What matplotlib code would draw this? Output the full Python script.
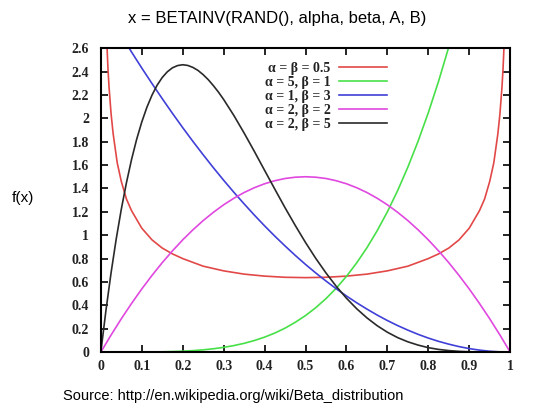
import matplotlib.pyplot as plt
from matplotlib.ticker import FuncFormatter

# values
x_grid = [0, 0.025, 0.05, 0.075, 0.1, 0.125, 0.15, 0.175, 0.2, 0.225, 0.25,
          0.275, 0.3, 0.325, 0.35, 0.375, 0.4, 0.425, 0.45, 0.475, 0.5,
          0.525, 0.55, 0.575, 0.6, 0.625, 0.65, 0.675, 0.7, 0.725, 0.75,
          0.775, 0.8, 0.825, 0.85, 0.875, 0.9, 0.925, 0.95, 0.975, 1]

x_red = [0.012, 0.0135, 0.015, 0.0175, 0.02, 0.025, 0.03, 0.04, 0.05, 0.0625,
         0.075, 0.1, 0.125, 0.15, 0.175, 0.2, 0.25, 0.3, 0.35, 0.4, 0.45,
         0.5, 0.55, 0.6, 0.65, 0.7, 0.75, 0.8, 0.825, 0.85, 0.875, 0.9,
         0.925, 0.9375, 0.95, 0.96, 0.97, 0.975, 0.98, 0.9825, 0.985,
         0.9865, 0.988]
y_red = [2.92, 2.76, 2.62, 2.42, 2.27, 2.04, 1.87, 1.62, 1.46, 1.31, 1.21,
         1.06, 0.96, 0.89, 0.84, 0.80, 0.735, 0.695, 0.667, 0.65, 0.64,
         0.637, 0.64, 0.65, 0.667, 0.695, 0.735, 0.80, 0.84, 0.89, 0.96,
         1.06, 1.21, 1.31, 1.46, 1.62, 1.87, 2.04, 2.27, 2.42, 2.62, 2.76,
         2.92]

y_green = [0, 0, 0, 0.0002, 0.0005, 0.0012, 0.0025, 0.0047, 0.008, 0.0128,
           0.0195, 0.0286, 0.0405, 0.0558, 0.075, 0.099, 0.128, 0.163, 0.205,
           0.255, 0.3125, 0.38, 0.4575, 0.5465, 0.648, 0.763, 0.8925, 1.038,
           1.20, 1.381, 1.582, 1.804, 2.048, 2.316, 2.61, 2.93, 3.28, 3.66,
           4.07, 4.52, 5.0]

y_blue = [3.0, 2.852, 2.708, 2.567, 2.43, 2.297, 2.168, 2.042, 1.92, 1.802,
          1.688, 1.577, 1.47, 1.367, 1.268, 1.172, 1.08, 0.992, 0.908, 0.827,
          0.75, 0.677, 0.608, 0.542, 0.48, 0.422, 0.368, 0.317, 0.27, 0.227,
          0.188, 0.152, 0.12, 0.092, 0.068, 0.047, 0.03, 0.017, 0.0075,
          0.002, 0]

y_magenta = [0, 0.146, 0.285, 0.416, 0.54, 0.656, 0.765, 0.866, 0.96, 1.046,
             1.125, 1.196, 1.26, 1.316, 1.365, 1.406, 1.44, 1.466, 1.485,
             1.496, 1.5, 1.496, 1.485, 1.466, 1.44, 1.406, 1.365, 1.316, 1.26,
             1.196, 1.125, 1.046, 0.96, 0.866, 0.765, 0.656, 0.54, 0.416,
             0.285, 0.146, 0]

x_black = [0, 0.0125, 0.025, 0.0375, 0.05, 0.0625, 0.075, 0.0875, 0.1,
           0.1125, 0.125, 0.1375, 0.15, 0.1625, 0.175, 0.1875, 0.2, 0.2125,
           0.225, 0.2375, 0.25, 0.2625, 0.275, 0.2875, 0.3, 0.325, 0.35,
           0.375, 0.4, 0.425, 0.45, 0.475, 0.5, 0.525, 0.55, 0.575, 0.6,
           0.625, 0.65, 0.675, 0.7, 0.725, 0.75, 0.775, 0.8, 0.825, 0.85,
           0.875, 0.9, 0.925, 0.95, 0.975, 1]
y_black = [0, 0.357, 0.678, 0.966, 1.222, 1.448, 1.647, 1.82, 1.968, 2.094,
           2.198, 2.283, 2.349, 2.398, 2.432, 2.451, 2.458, 2.452, 2.435,
           2.409, 2.373, 2.33, 2.279, 2.223, 2.161, 2.024, 1.874, 1.717,
           1.555, 1.394, 1.235, 1.083, 0.9375, 0.802, 0.677, 0.563, 0.461,
           0.371, 0.293, 0.226, 0.17, 0.124, 0.088, 0.06, 0.038, 0.023,
           0.013, 0.0064, 0.0027, 0.0009, 0.0002, 0, 0]

labels = ['α = β = 0.5', 'α = 5, β = 1', 'α = 1, β = 3',
          'α = 2, β = 2', 'α = 2, β = 5']
colors = ['#e24848', '#48e048', '#4040d8', '#e048e0', '#2a2a2a']

x_ticks = [0, 0.1, 0.2, 0.3, 0.4, 0.5, 0.6, 0.7, 0.8, 0.9, 1]
y_ticks = [0, 0.2, 0.4, 0.6, 0.8, 1, 1.2, 1.4, 1.6, 1.8, 2, 2.2, 2.4, 2.6]

fig = plt.figure(figsize=(5.48, 4.08), dpi=100)
ax = fig.add_axes([0.184, 0.137, 0.747, 0.745])

series = [(x_red, y_red), (x_grid, y_green), (x_grid, y_blue),
          (x_grid, y_magenta), (x_black, y_black)]
for (xs, ys), lab, c in zip(series, labels, colors):
    ax.plot(xs, ys, color=c, lw=1.2, label=lab)

ax.set_xlim(0, 1)
ax.set_ylim(0, 2.6)
ax.set_xticks(x_ticks)
ax.set_yticks(y_ticks)
fmt = FuncFormatter(lambda v, p: '%g' % round(v, 2))
ax.xaxis.set_major_formatter(fmt)
ax.yaxis.set_major_formatter(fmt)
ax.tick_params(direction='in', length=5, width=1.2, top=True, right=True,
               labelsize=10, pad=6)
ax.tick_params(axis='y', pad=8.5)
for t in ax.get_xticklabels() + ax.get_yticklabels():
    t.set_family('Liberation Serif')
    t.set_weight('bold')
    t.set_color('#222222')
for s in ax.spines.values():
    s.set_linewidth(1.5)

leg = ax.legend(loc='upper right', bbox_to_anchor=(0.70, 0.955),
                frameon=False, markerfirst=False, handlelength=3.5,
                handletextpad=0.6, labelspacing=0.08, borderpad=0,
                borderaxespad=0,
                prop={'family': 'Liberation Serif', 'size': 10, 'weight': 'bold'})
for t in leg.get_texts():
    t.set_color('#222222')

fig.text(0.506, 0.955, 'x = BETAINV(RAND(), alpha, beta, A, B)',
         ha='center', va='center', fontsize=12, family='Liberation Sans')
fig.text(0.022, 0.515, 'f(x)', ha='left', va='center', fontsize=11,
         family='Liberation Sans')
fig.text(0.115, 0.03, 'Source: http://en.wikipedia.org/wiki/Beta_distribution',
         ha='left', va='center', fontsize=10.5, family='Liberation Sans')

fig.savefig('out.png', dpi=100)
